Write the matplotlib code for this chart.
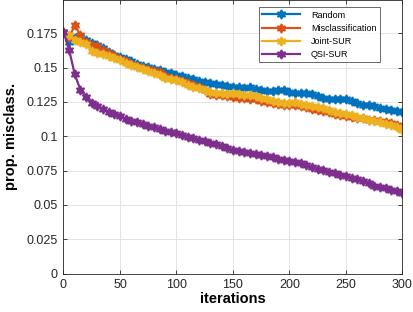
import numpy as np
import matplotlib
matplotlib.use('Agg')
import matplotlib.pyplot as plt

plt.rcParams['font.family'] = ['Liberation Sans', 'DejaVu Sans']

iterations = list(range(0, 301, 5))

random_vals = [
    0.1762, 0.1690, 0.1715, 0.1725, 0.1700, 0.1680, 0.1662, 0.1640, 0.1615, 0.1595,
    0.1580, 0.1560, 0.1545, 0.1528, 0.1515, 0.1502, 0.1490, 0.1480, 0.1468, 0.1459,
    0.1448, 0.1440, 0.1425, 0.1415, 0.1400, 0.1395, 0.1388, 0.1380, 0.1372, 0.1366,
    0.1360, 0.1358, 0.1355, 0.1356, 0.1345, 0.1338, 0.1333, 0.1330, 0.1335, 0.1340,
    0.1322, 0.1315, 0.1313, 0.1312, 0.1305, 0.1290, 0.1278, 0.1275, 0.1274, 0.1270,
    0.1268, 0.1255, 0.1240, 0.1230, 0.1225, 0.1218, 0.1208, 0.1200, 0.1192, 0.1185,
    0.1175,
]

misclass_vals = [
    0.1762, 0.1720, 0.1810, 0.1735, 0.1690, 0.1668, 0.1655, 0.1630, 0.1605, 0.1588,
    0.1565, 0.1548, 0.1530, 0.1512, 0.1500, 0.1490, 0.1478, 0.1468, 0.1440, 0.1428,
    0.1418, 0.1405, 0.1385, 0.1372, 0.1360, 0.1335, 0.1310, 0.1302, 0.1298, 0.1292,
    0.1288, 0.1282, 0.1278, 0.1272, 0.1268, 0.1260, 0.1250, 0.1242, 0.1235, 0.1228,
    0.1225, 0.1228, 0.1222, 0.1212, 0.1202, 0.1193, 0.1185, 0.1175, 0.1165, 0.1155,
    0.1148, 0.1142, 0.1136, 0.1130, 0.1122, 0.1116, 0.1110, 0.1102, 0.1096, 0.1082,
    0.1065,
]

joint_vals = [
    0.1762, 0.1738, 0.1700, 0.1685, 0.1672, 0.1625, 0.1610, 0.1598, 0.1588, 0.1570,
    0.1555, 0.1535, 0.1520, 0.1505, 0.1490, 0.1475, 0.1460, 0.1446, 0.1425, 0.1415,
    0.1410, 0.1395, 0.1370, 0.1360, 0.1352, 0.1340, 0.1325, 0.1318, 0.1312, 0.1310,
    0.1313, 0.1305, 0.1300, 0.1300, 0.1290, 0.1278, 0.1268, 0.1260, 0.1250, 0.1242,
    0.1240, 0.1248, 0.1238, 0.1228, 0.1220, 0.1210, 0.1203, 0.1188, 0.1178, 0.1170,
    0.1163, 0.1152, 0.1142, 0.1132, 0.1122, 0.1112, 0.1102, 0.1092, 0.1082, 0.1065,
    0.1045,
]

qsi_vals = [
    0.1762, 0.1628, 0.1451, 0.1337, 0.1288, 0.1244, 0.1223, 0.1196, 0.1179, 0.1162,
    0.1148, 0.1128, 0.1113, 0.1101, 0.1089, 0.1075, 0.1065, 0.1053, 0.1041, 0.1031,
    0.1021, 0.1008, 0.0993, 0.0985, 0.0975, 0.0962, 0.0952, 0.0944, 0.0930, 0.0915,
    0.0897, 0.0890, 0.0884, 0.0876, 0.0868, 0.0862, 0.0855, 0.0848, 0.0838, 0.0830,
    0.0820, 0.0811, 0.0803, 0.0790, 0.0774, 0.0764, 0.0754, 0.0743, 0.0731, 0.0719,
    0.0708, 0.0698, 0.0686, 0.0675, 0.0659, 0.0641, 0.0631, 0.0620, 0.0609, 0.0600,
    0.0589,
]

series = [
    ('Random', random_vals, '#0072BD'),
    ('Misclassification', misclass_vals, '#D95319'),
    ('Joint-SUR', joint_vals, '#EDB120'),
    ('QSI-SUR', qsi_vals, '#7E2F8E'),
]

fig = plt.figure(figsize=(4.14, 3.12), dpi=100)
ax = fig.add_axes([63.5 / 414, 38.5 / 312, 339 / 414, 273.5 / 312])

hexagram = (6, 1, 0)
for name, vals, color in series:
    ax.plot(iterations, vals, color=color, linewidth=1.6, marker=hexagram,
            markersize=6.5, markeredgewidth=1.2, label=name)

ax.set_xlim(0, 300)
ax.set_ylim(0, 0.1993)
ax.set_xticks(range(0, 301, 50))
ax.set_yticks([0, 0.025, 0.05, 0.075, 0.1, 0.125, 0.15, 0.175])
ax.set_yticklabels(['0', '0.025', '0.05', '0.075', '0.1', '0.125', '0.15', '0.175'])

ax.grid(True, color='#e3e3e3', linewidth=0.7)
ax.set_axisbelow(True)
for s in ax.spines.values():
    s.set_color('#262626')
    s.set_linewidth(0.6)
ax.tick_params(direction='in', length=3, width=0.6, colors='#262626',
               labelsize=9, top=True, right=True, pad=4)

ax.set_xlabel('iterations', fontsize=10.5, fontweight='bold', labelpad=1)
ax.set_ylabel('prop. misclass.', fontsize=10.5, fontweight='bold', labelpad=6)

leg = ax.legend(loc='upper right', bbox_to_anchor=(380 / 414, 1 - 7 / 312),
                bbox_transform=fig.transFigure, fontsize=6.5, frameon=True,
                fancybox=False, handlelength=4.2, borderpad=0.4,
                labelspacing=0.45, handletextpad=1.2, borderaxespad=0)
leg.get_frame().set_edgecolor('#262626')
leg.get_frame().set_linewidth(0.6)

fig.savefig('out.png', dpi=100)
